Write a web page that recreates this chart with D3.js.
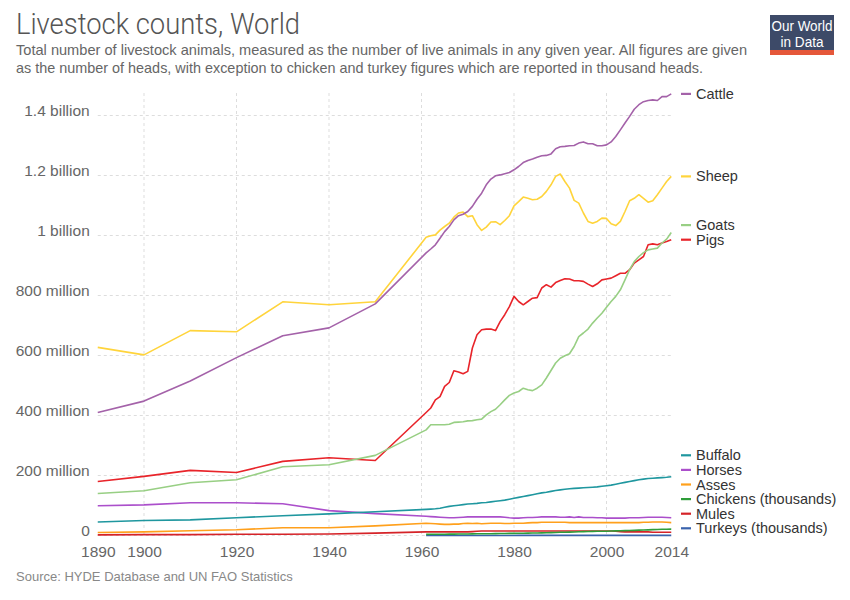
<!DOCTYPE html>
<html>
<head>
<meta charset="utf-8">
<script src="https://cdn.jsdelivr.net/npm/d3@7"></script>
<style>
  body { margin: 0; background: #fff; }
  svg { font-family: "Helvetica Neue", Helvetica, Arial, "Liberation Sans", sans-serif; }
</style>
</head>
<body>
<svg id="chart" width="850" height="600"></svg>
<script>
// years: HYDE estimates up to 1950, then FAO yearly from 1961
var hydeYears = [1890, 1900, 1910, 1920, 1930, 1940, 1950];
var faoYears = d3.range(1961, 2015);

// values in millions (chickens and turkeys in millions of thousand heads)
var cattleHyde = [410, 448, 515, 593, 666, 692, 772];
var cattleFao = [942, 955, 969, 991, 1013, 1030, 1052, 1066, 1071, 1080,
  1097, 1121, 1141, 1169, 1188, 1199, 1202, 1206, 1210, 1219,
  1230, 1243, 1250, 1255, 1261, 1266, 1267, 1272, 1289, 1296,
  1297, 1299, 1300, 1308, 1312, 1306, 1306, 1299, 1299, 1302,
  1312, 1330, 1352, 1375, 1397, 1421, 1436, 1446, 1450, 1452,
  1450, 1463, 1463, 1472];

var sheepHyde = [627, 602, 683, 679, 779, 769, 779];
var sheepFao = [994, 999, 1002, 1018, 1030, 1041, 1061, 1075, 1078, 1063,
  1066, 1036, 1017, 1028, 1045, 1046, 1036, 1050, 1066, 1099,
  1113, 1128, 1124, 1119, 1121, 1130, 1147, 1169, 1197, 1205,
  1180, 1158, 1117, 1108, 1075, 1047, 1041, 1047, 1058, 1057,
  1039, 1033, 1047, 1080, 1116, 1124, 1136, 1124, 1111, 1116,
  1136, 1158, 1180, 1197];

var goatsHyde = [140, 149, 176, 186, 229, 236, 267];
var goatsFao = [352, 369, 369, 369, 369, 371, 377, 378, 379, 382,
  383, 386, 388, 402, 413, 421, 436, 452, 467, 475,
  480, 491, 486, 483, 491, 502, 525, 550, 575, 591,
  599, 606, 630, 663, 675, 688, 708, 725, 741, 761,
  780, 797, 819, 852, 886, 913, 930, 943, 952, 955,
  958, 975, 988, 1010];

var pigsHyde = [180, 197, 217, 210, 247, 259, 250];
var pigsFao = [410, 425, 452, 463, 497, 510, 549, 545, 539, 547,
  625, 669, 686, 688, 688, 683, 713, 736, 763, 797,
  780, 769, 780, 791, 793, 825, 836, 828, 843, 850,
  856, 855, 849, 849, 847, 838, 830, 839, 852, 855,
  858, 866, 874, 874, 886, 908, 919, 930, 969, 972,
  969, 975, 980, 986];

var buffaloHyde = [45, 50, 52, 59, 66, 72, 79];
var buffaloFao = [87, 88, 89, 91, 94, 97, 99, 101, 103, 105,
  106, 107, 109, 110, 112, 114, 116, 118, 121, 124,
  127, 130, 133, 136, 139, 142, 144, 147, 150, 152,
  154, 156, 157, 158, 159, 160, 161, 162, 164, 166,
  168, 171, 174, 177, 180, 183, 186, 188, 190, 191,
  192, 193, 194, 196];

var horsesHyde = [99, 102, 109, 109, 106, 83, 73];
var horsesFao = [64, 63, 62, 61, 60, 59, 59, 60, 61, 62,
  62, 62, 62, 62, 62, 62, 62, 61, 59, 58,
  58, 59, 60, 60, 61, 62, 62, 62, 62, 61,
  61, 62, 60, 62, 60, 60, 60, 59, 59, 58,
  58, 58, 58, 58, 59, 59, 59, 60, 61, 61,
  61, 61, 60, 59];

var assesHyde = [10, 12, 16, 19, 26, 26, 32];
var assesFao = [41, 40, 39, 38, 37, 37, 38, 38, 40, 41,
  40, 41, 39, 40, 41, 41, 41, 40, 40, 41,
  41, 41, 42, 43, 43, 44, 44, 44, 44, 44,
  44, 43, 43, 43, 43, 43, 43, 43, 43, 43,
  43, 43, 43, 43, 43, 43, 43, 44, 44, 45,
  45, 45, 44, 43];

var chickensFao = [3.9, 4.0, 4.1, 4.2, 4.4, 4.5, 4.6, 4.8, 5.0, 5.2,
  5.4, 5.6, 5.7, 5.8, 6.0, 6.2, 6.5, 6.8, 7.0, 7.2,
  7.4, 7.6, 7.8, 8.1, 8.5, 8.9, 9.3, 9.7, 10.1, 10.6,
  10.9, 11.4, 11.9, 12.4, 12.9, 13.2, 13.6, 14.0, 14.2, 14.4,
  14.9, 15.4, 15.8, 16.1, 16.6, 17.2, 17.8, 18.4, 18.9, 19.5,
  20.0, 20.6, 21.0, 21.3];

var mulesHyde = [2, 3, 3, 4, 4, 5, 8];
var mulesFao = [12, 12, 12, 12, 12, 12, 12, 12, 12, 12,
  13, 14, 15, 15, 15, 15, 15, 15, 15, 15,
  15, 15, 15, 15, 15, 15, 15, 15, 15, 15,
  15, 15, 15, 15, 15, 15, 15, 15, 15, 15,
  15, 14, 13, 12, 12, 12, 12, 12, 12, 11,
  11, 11, 11, 11];

var turkeysFao = [0.13, 0.13, 0.14, 0.14, 0.15, 0.16, 0.17, 0.17, 0.18, 0.19,
  0.19, 0.2, 0.2, 0.21, 0.21, 0.22, 0.23, 0.24, 0.24, 0.25,
  0.26, 0.27, 0.27, 0.28, 0.29, 0.3, 0.3, 0.31, 0.32, 0.33,
  0.34, 0.35, 0.36, 0.37, 0.38, 0.39, 0.4, 0.41, 0.42, 0.43,
  0.44, 0.45, 0.45, 0.45, 0.45, 0.46, 0.46, 0.46, 0.46, 0.47,
  0.47, 0.47, 0.47, 0.47];

var seriesNames = ["Cattle", "Sheep", "Goats", "Pigs", "Buffalo", "Horses", "Asses",
  "Chickens (thousands)", "Mules", "Turkeys (thousands)"];
var seriesColors = ["#a462a9", "#ffd43b", "#98cf84", "#e8242a", "#1f979f", "#ab4fcb",
  "#ffa01c", "#2f9d3a", "#d52328", "#3a63ad"];

var yTicks = [0, 200, 400, 600, 800, 1000, 1200, 1400];
var yTickLabels = ["0", "200 million", "400 million", "600 million", "800 million",
  "1 billion", "1.2 billion", "1.4 billion"];
var xTicks = [1890, 1900, 1920, 1940, 1960, 1980, 2000, 2014];

function pairs(years, vals) {
  return years.map(function(y, i) { return {year: y, v: vals[i]}; });
}

var series = [
  pairs(hydeYears, cattleHyde).concat(pairs(faoYears, cattleFao)),
  pairs(hydeYears, sheepHyde).concat(pairs(faoYears, sheepFao)),
  pairs(hydeYears, goatsHyde).concat(pairs(faoYears, goatsFao)),
  pairs(hydeYears, pigsHyde).concat(pairs(faoYears, pigsFao)),
  pairs(hydeYears, buffaloHyde).concat(pairs(faoYears, buffaloFao)),
  pairs(hydeYears, horsesHyde).concat(pairs(faoYears, horsesFao)),
  pairs(hydeYears, assesHyde).concat(pairs(faoYears, assesFao)),
  pairs(faoYears, chickensFao),
  pairs(hydeYears, mulesHyde).concat(pairs(faoYears, mulesFao)),
  pairs(faoYears, turkeysFao)
].map(function(pts, i) {
  return {name: seriesNames[i], color: seriesColors[i], points: pts};
});

var svg = d3.select("#chart");

var x = d3.scaleLinear().domain([1890, 2014]).range([97.75, 671.25]);
var y = d3.scaleLinear().domain([0, 1475]).range([535.5, 93]);

// header
svg.append("text")
  .attr("x", 16).attr("y", 34)
  .attr("font-size", 29).attr("font-weight", 300)
  .attr("font-family", "Roboto, 'Liberation Sans', sans-serif")
  .attr("fill", "#555")
  .attr("textLength", 284).attr("lengthAdjust", "spacingAndGlyphs")
  .text("Livestock counts, World");

var subLines = [
  "Total number of livestock animals, measured as the number of live animals in any given year. All figures are given",
  "as the number of heads, with exception to chicken and turkey figures which are reported in thousand heads."
];
var subWidths = [731, 687];
svg.selectAll(".sub")
  .data(subLines)
  .enter().append("text")
  .attr("class", "sub")
  .attr("x", 16)
  .attr("y", function(d, i) { return 55 + i * 18; })
  .attr("font-size", 14.5)
  .attr("fill", "#666")
  .attr("textLength", function(d, i) { return subWidths[i]; })
  .attr("lengthAdjust", "spacingAndGlyphs")
  .text(function(d) { return d; });

// logo
var logo = svg.append("g");
logo.append("rect").attr("x", 770).attr("y", 15).attr("width", 64).attr("height", 40).attr("fill", "#3d4a68");
logo.append("rect").attr("x", 770).attr("y", 50).attr("width", 64).attr("height", 5).attr("fill", "#e5573a");
logo.append("text").attr("x", 802).attr("y", 31).attr("text-anchor", "middle")
  .attr("font-size", 15.5).attr("fill", "#fff")
  .attr("textLength", 61).attr("lengthAdjust", "spacingAndGlyphs").text("Our World");
logo.append("text").attr("x", 802).attr("y", 47).attr("text-anchor", "middle")
  .attr("font-size", 15.5).attr("fill", "#fff")
  .attr("textLength", 43).attr("lengthAdjust", "spacingAndGlyphs").text("in Data");

// grid
svg.append("g").selectAll("line")
  .data(yTicks)
  .enter().append("line")
  .attr("x1", x(1890)).attr("x2", x(2014))
  .attr("y1", function(d) { return y(d); }).attr("y2", function(d) { return y(d); })
  .attr("stroke", "#ddd").attr("stroke-dasharray", "3,3");

svg.append("g").selectAll("line")
  .data(xTicks.slice(1, -1))
  .enter().append("line")
  .attr("x1", function(d) { return x(d); }).attr("x2", function(d) { return x(d); })
  .attr("y1", y(1475)).attr("y2", y(0))
  .attr("stroke", "#ddd").attr("stroke-dasharray", "3,3");

// axes labels
var yAxis = svg.append("g")
  .attr("transform", "translate(" + (x(1890) - 5) + ",0)")
  .call(d3.axisLeft(y).tickValues(yTicks).tickSize(0)
    .tickFormat(function(d, i) { return yTickLabels[i]; }));
yAxis.select(".domain").remove();
yAxis.selectAll("text")
  .attr("font-size", 15.5).attr("fill", "#666")
  .attr("font-family", "inherit")
  .attr("dy", "0").attr("y", -0.5);

var xAxis = svg.append("g")
  .attr("transform", "translate(0," + y(0) + ")")
  .call(d3.axisBottom(x).tickValues(xTicks).tickSize(0).tickFormat(d3.format("d")));
xAxis.select(".domain").remove();
xAxis.selectAll("text")
  .attr("font-size", 15.5).attr("fill", "#666")
  .attr("font-family", "inherit")
  .attr("dy", "0").attr("y", 21.5);

// lines
var line = d3.line()
  .x(function(d) { return x(d.year); })
  .y(function(d) { return y(d.v); });

svg.append("g").selectAll("path")
  .data(series.slice().reverse())
  .enter().append("path")
  .attr("d", function(d) { return line(d.points); })
  .attr("fill", "none")
  .attr("stroke", function(d) { return d.color; })
  .attr("stroke-width", 1.6)
  .attr("stroke-linejoin", "round");

// end labels, pushed up from the bottom so they do not collide
var gap = 14.6;
var labels = series.map(function(s) {
  var last = s.points[s.points.length - 1];
  return {name: s.name, color: s.color, target: y(last.v)};
}).sort(function(a, b) { return b.target - a.target; });
var prev = 528.3 + gap;
labels.forEach(function(l) {
  l.y = Math.min(l.target, prev - gap);
  prev = l.y;
});

var leg = svg.append("g").selectAll("g")
  .data(labels)
  .enter().append("g")
  .attr("transform", function(d) { return "translate(681," + d.y + ")"; });
leg.append("line")
  .attr("x1", 0).attr("x2", 10)
  .attr("stroke", function(d) { return d.color; })
  .attr("stroke-width", 2.2);
leg.append("text")
  .attr("x", 15).attr("dy", "0.35em")
  .attr("font-size", 14.5).attr("fill", "#333")
  .text(function(d) { return d.name; });

// source
svg.append("text")
  .attr("x", 16).attr("y", 581)
  .attr("font-size", 13).attr("fill", "#888")
  .text("Source: HYDE Database and UN FAO Statistics");
</script>
</body>
</html>
